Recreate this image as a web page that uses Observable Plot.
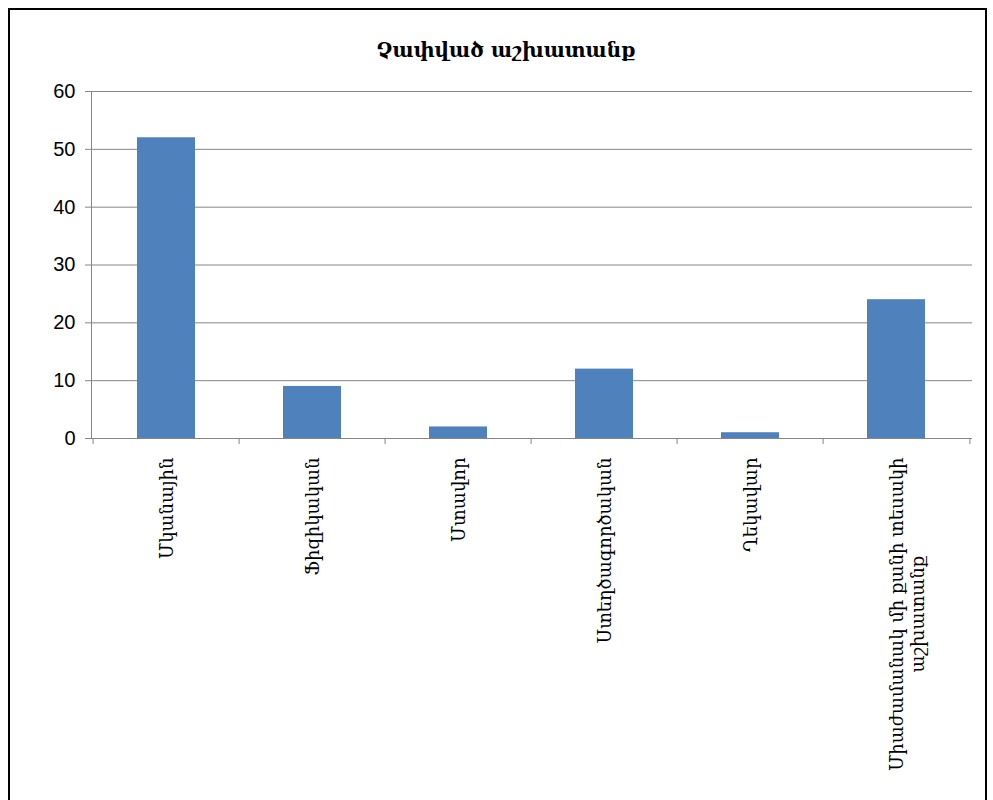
<!DOCTYPE html>
<html>
<head>
<meta charset="utf-8">
<script src="https://cdn.jsdelivr.net/npm/d3@7"></script>
<script src="https://cdn.jsdelivr.net/npm/@observablehq/plot@0.6"></script>
<style>
  html, body { margin: 0; padding: 0; background: #fff; }
  #wrap { position: relative; width: 993px; height: 800px; overflow: hidden; }
  #frame { position: absolute; left: 8px; top: 8px; width: 979px; height: 820px;
           border: 2px solid #000; box-sizing: border-box; pointer-events: none; }
  #title { position: absolute; left: 0; width: 1012px; top: 38px; text-align: center;
           font-family: "DejaVu Serif", serif; font-weight: bold; font-size: 20px; color: #000; }
  #chart { position: absolute; left: 0; top: 0; }
</style>
</head>
<body>
<div id="wrap">
  <div id="chart"></div>
  <div id="title">Չափված աշխատանք</div>
  <div id="frame"></div>
</div>
<script>
// Work types and how many were measured for each
const categories = [
  "Մկանային",
  "Ֆիզիկական",
  "Մտավոր",
  "Ստեղծագործական",
  "Ղեկավար",
  "Միաժամանակ մի քանի տեսակի\nաշխատանք"
];
const values = [52, 9, 2, 12, 1, 24];
const yTicks = [0, 10, 20, 30, 40, 50, 60];

const data = categories.map((c, i) => ({category: c, value: values[i]}));

const W = 993, H = 800;
const margin = {left: 91, right: 21, top: 91, bottom: 362};
const band = {paddingInner: 0.6, paddingOuter: 0.3};
const step = Plot.scale({x: {type: "band", domain: categories, ...band, range: [margin.left, W - margin.right]}}).step;

const gray = "#868686";
const labelFont = "DejaVu Serif";
const labelSize = 18;

const chart = Plot.plot({
  width: W,
  height: H,
  marginLeft: margin.left,
  marginRight: margin.right,
  marginTop: margin.top,
  marginBottom: margin.bottom,
  style: {background: "#fff", overflow: "visible"},
  x: {domain: categories, ...band, axis: null},
  y: {domain: [0, 60], axis: null},
  marks: [
    Plot.gridY(yTicks, {stroke: gray, strokeOpacity: 1, strokeWidth: 1}),
    Plot.barY(data, {x: "category", y: "value", fill: "#4f81bd"}),
    Plot.frame({anchor: "left", stroke: gray}),
    Plot.ruleY([0], {stroke: gray}),
    // tick marks on the category boundaries, below the baseline
    Plot.ruleX(categories, {x: d => d, y1: 0, y2: 0, dx: -step / 2, insetBottom: -6, stroke: gray}),
    Plot.ruleX(categories.slice(-1), {x: d => d, y1: 0, y2: 0, dx: step / 2, insetBottom: -6, stroke: gray}),
    Plot.axisY({
      ticks: yTicks, tickSize: 6, tickPadding: 10, stroke: gray,
      fontSize: 20, fontFamily: "Liberation Sans", fill: "#000", label: null
    }),
    Plot.text(data, {
      x: "category", frameAnchor: "bottom", dy: 19,
      text: "category", rotate: -90, textAnchor: "end", lineAnchor: "middle",
      fontSize: labelSize, fontFamily: labelFont, fill: "#000", lineHeight: 1.15,
      className: "cat-labels"
    })
  ]
});

document.getElementById("chart").appendChild(chart);

// keep the first line of a wrapped label on its bar and centre the rest under it
d3.select(chart).selectAll(".cat-labels text").each(function () {
  const spans = this.querySelectorAll("tspan");
  if (spans.length < 2) return;
  const first = spans[0].getComputedTextLength();
  const shift = (spans.length - 1) * 1.15 * labelSize / 2;
  this.setAttribute("transform", (this.getAttribute("transform") || "") + ` translate(0,${shift})`);
  for (let k = 1; k < spans.length; k++) {
    spans[k].setAttribute("x", -first / 2);
    spans[k].setAttribute("text-anchor", "middle");
  }
});
</script>
</body>
</html>
